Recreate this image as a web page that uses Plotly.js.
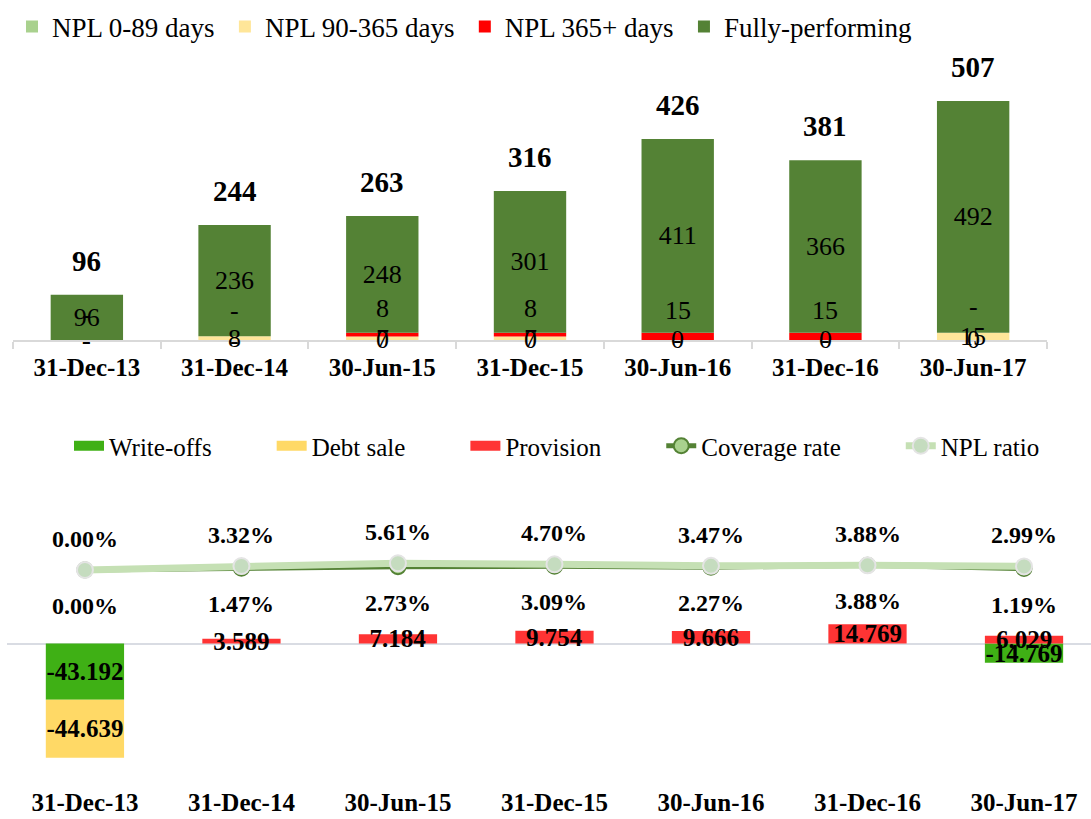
<!DOCTYPE html>
<html><head><meta charset="utf-8">
<script src="https://cdn.plot.ly/plotly-3.0.1.min.js"></script>
<style>html,body{margin:0;padding:0;background:#fff;} #chart{width:1091px;height:819px;}</style>
</head><body><div id="chart"></div>
<script>
// ---- data ----
const dates = ['31-Dec-13','31-Dec-14','30-Jun-15','31-Dec-15','30-Jun-16','31-Dec-16','30-Jun-17'];
const npl0_89 = [0, 0, 0.2, 0.2, 0.2, 0.2, 0.2];
const npl90_365 = [0, 8, 7, 7, 0, 0, 15];
const npl365 = [0, 0, 8, 8, 15, 15, 0];
const fullyPerforming = [96, 236, 248, 301, 411, 366, 492];
const writeOffs = [-43.192, 0, 0, 0, 0, 0, -14.769];
const debtSale = [-44.639, 0, 0, 0, 0, 0, 0];
const provision = [0, 3.589, 7.184, 9.754, 9.666, 14.769, 6.029];
const coverageRate = [0, 0.0147, 0.0273, 0.0309, 0.0227, 0.0388, 0.0119];
const nplRatio = [0, 0.0332, 0.0561, 0.0470, 0.0347, 0.0388, 0.0299];

// ---- geometry / style ----
const W = 1091, H = 819;
const FONT = '"Liberation Serif", "Times New Roman", serif';
const C = {
  npl0: '#a9d18e', npl90: '#ffe699', npl365: '#ff0000', fully: '#548235',
  wo: '#3fb015', ds: '#ffd966', prov: '#ff3434',
  cov: '#548235', covMk: '#a9d18e', npl: '#c5e0b4', nplMk: '#c5dcbf', nplMkLine: '#e4e4e4'
};
const fmtInt = v => v === 0 ? '-' : String(Math.round(v));
const fmtDec = v => v === 0 ? '' : v.toFixed(3);
const fmtPct = v => (v * 100).toFixed(2) + '%';
const totals = dates.map((d, i) => npl0_89[i] + npl90_365[i] + npl365[i] + fullyPerforming[i]);
const TS = '\u2009';

const topBar = (name, y, color, extra) => Object.assign({
  type: 'bar', name: name + TS, x: dates, y, xaxis: 'x', yaxis: 'y', width: 0.49,
  marker: {color, line: {width: 0}}, legend: 'legend', hoverinfo: 'skip'
}, extra || {});

const traces = [
  topBar('NPL 0-89 days', npl0_89, C.npl0),
  topBar('NPL 90-365 days', npl90_365, C.npl90),
  topBar('NPL 365+ days', npl365, C.npl365),
  topBar('Fully-performing', fullyPerforming, C.fully, {
    text: fullyPerforming.map(fmtInt), textposition: 'inside', insidetextanchor: 'middle',
    constraintext: 'none', textangle: 0,
    insidetextfont: {family: FONT, size: 26, color: '#000'}
  })
];

const botBar = (y, color) => ({
  type: 'bar', x: dates, y, xaxis: 'x2', yaxis: 'y3', width: 0.5, showlegend: false,
  marker: {color, line: {width: 0}}, hoverinfo: 'skip',
  text: y.map(fmtDec), textposition: 'inside', insidetextanchor: 'middle',
  constraintext: 'none', textangle: 0, cliponaxis: false,
  insidetextfont: {family: FONT, size: 25, color: '#000', weight: 'bold'}
});
traces.push(botBar(writeOffs, C.wo), botBar(debtSale, C.ds), botBar(provision, C.prov));

// legend-only swatches for the bottom bars
const NB = '\u00a0'.repeat(8) + TS;
[['Write-offs', C.wo], ['Debt sale', C.ds], ['Provision', C.prov]].forEach(([n, c]) => {
  traces.push({type: 'scatter', mode: 'lines', name: n + NB, x: [null], y: [null],
    xaxis: 'x2', yaxis: 'y3', legend: 'legend2', line: {color: c, width: 14}, hoverinfo: 'skip'});
});
traces.push({
  type: 'scatter', mode: 'lines+markers', name: 'Coverage rate' + NB, x: dates, y: coverageRate,
  xaxis: 'x2', yaxis: 'y4', legend: 'legend2', cliponaxis: false,
  line: {color: C.cov, width: 5}, marker: {size: 15, color: C.covMk, line: {color: C.cov, width: 2}},
  hoverinfo: 'skip'
});
traces.push({
  type: 'scatter', mode: 'lines+markers', name: 'NPL ratio', x: dates, y: nplRatio,
  xaxis: 'x2', yaxis: 'y4', legend: 'legend2', cliponaxis: false,
  line: {color: C.npl, width: 7}, marker: {size: 16, color: C.nplMk, line: {color: C.nplMkLine, width: 2}},
  hoverinfo: 'skip'
});

// ---- annotations ----
const ann = [];
dates.forEach((d, i) => {
  ann.push({x: d, y: totals[i], xref: 'x', yref: 'y', yanchor: 'middle', yshift: 34, showarrow: false,
    text: String(Math.round(totals[i])), font: {family: FONT, size: 29, color: '#000', weight: 'bold'}});
  ann.push({x: d, y: npl0_89[i] / 2, xref: 'x', yref: 'y', yanchor: 'middle', showarrow: false,
    text: fmtInt(npl0_89[i]), font: {family: FONT, size: 26, color: '#000'}});
  ann.push({x: d, y: npl0_89[i] + npl90_365[i] / 2, xref: 'x', yref: 'y', yanchor: 'middle', showarrow: false,
    text: fmtInt(npl90_365[i]), font: {family: FONT, size: 26, color: '#000'}});
  ann.push({x: d, y: npl0_89[i] + npl90_365[i] + npl365[i] / 2, xref: 'x', yref: 'y', yanchor: 'middle',
    yshift: 26, showarrow: false,
    text: fmtInt(npl365[i]), font: {family: FONT, size: 26, color: '#000'}});
  ann.push({x: d, y: nplRatio[i], xref: 'x2', yref: 'y4', yanchor: 'middle', yshift: 31, showarrow: false,
    text: fmtPct(nplRatio[i]), font: {family: FONT, size: 24, color: '#000', weight: 'bold'}});
  ann.push({x: d, y: coverageRate[i], xref: 'x2', yref: 'y4', yanchor: 'middle', yshift: -36, showarrow: false,
    text: fmtPct(coverageRate[i]), font: {family: FONT, size: 24, color: '#000', weight: 'bold'}});
});

// ---- layout ----
const py = p => 1 - p / H;
const BOT = 785;
const layout = {
  width: W, height: H, margin: {l: 0, r: 0, t: 0, b: 0},
  paper_bgcolor: '#fff', plot_bgcolor: 'rgba(0,0,0,0)',
  font: {family: FONT, color: '#000'},
  barmode: 'relative', showlegend: true,
  xaxis: {domain: [13 / W, 1047 / W], anchor: 'y', type: 'category', range: [-0.5, 6.5],
    showline: true, linecolor: '#d9d9d9', linewidth: 2, ticks: 'outside', tickson: 'boundaries',
    ticklen: 7, tickwidth: 2, tickcolor: '#d9d9d9', ticklabelstandoff: 4,
    tickfont: {family: FONT, size: 25, color: '#000', weight: 'bold'}, showgrid: false, zeroline: false},
  yaxis: {domain: [py(340), py(50)], anchor: 'x', range: [0, 290 / 0.4714], visible: false,
    showgrid: false, zeroline: false},
  xaxis2: {domain: [7 / W, 1], anchor: 'y3', type: 'category', range: [-0.498, 6.428],
    showline: false, ticks: '', showgrid: false, zeroline: false,
    tickfont: {family: FONT, size: 25, color: '#000', weight: 'bold'}},
  yaxis3: {domain: [py(BOT), py(470)], anchor: 'x2', range: [-(BOT - 643.5) / 1.3, (643.5 - 470) / 1.3],
    showticklabels: false, ticks: '', showgrid: false, showline: false,
    zeroline: true, zerolinecolor: '#d9dce3', zerolinewidth: 2},
  yaxis4: {overlaying: 'y3', anchor: 'x2', side: 'right', range: [-(BOT - 570) / 120, (570 - 470) / 120],
    visible: false, showgrid: false, zeroline: false},
  legend: {orientation: 'h', x: 12 / W, xanchor: 'left', y: py(27), yanchor: 'middle',
    font: {family: FONT, size: 27, color: '#000'}, bgcolor: 'rgba(0,0,0,0)', traceorder: 'normal'},
  legend2: {orientation: 'h', x: 69 / W, xanchor: 'left', y: py(446), yanchor: 'middle',
    font: {family: FONT, size: 25, color: '#000'}, bgcolor: 'rgba(0,0,0,0)', traceorder: 'normal'},
  annotations: ann
};

Plotly.newPlot('chart', traces, layout, {displayModeBar: false, staticPlot: true});
</script></body></html>
